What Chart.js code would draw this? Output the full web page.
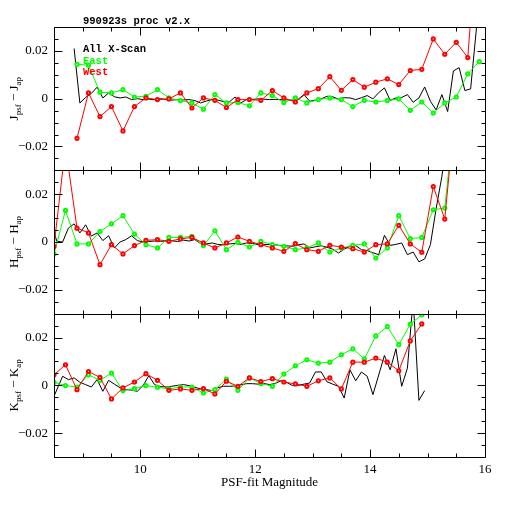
<!DOCTYPE html>
<html>
<head>
<meta charset="utf-8">
<script src="https://cdn.jsdelivr.net/npm/chart.js@4.4.0/dist/chart.umd.min.js"></script>
<style>
  html, body { margin: 0; padding: 0; background: #fff; }
  #wrap { width: 512px; height: 512px; }
</style>
</head>
<body>
<div id="wrap"><canvas id="chart" width="512" height="512"></canvas></div>
<script>
// plot title and series names
const plotTitle = '990923s proc v2.x';
const seriesNames = ['All X-Scan', 'East', 'West'];
const seriesColors = ['#000000', '#00ff00', '#ff0000'];
const xTickLabels = [10, 12, 14, 16];
const yTickLabels = [-0.02, 0, 0.02];

// J band (top panel)
const magJ = [8.9, 9.1, 9.3, 9.5, 9.7, 9.9, 10.1, 10.3, 10.5, 10.7, 10.9, 11.1, 11.3, 11.5, 11.7, 11.9, 12.1, 12.3,
  12.5, 12.7, 12.9, 13.1, 13.3, 13.5, 13.7, 13.9, 14.1, 14.3, 14.5, 14.7, 14.9, 15.1, 15.3, 15.5, 15.7, 15.9];
const eastJ = [0.0144, 0.0140, 0.0027, 0.0024, 0.0038, 0.0007, 0.0010, 0.0038, 0.0003, -0.0008, -0.0018, -0.0044,
  0.0017, -0.0018, -0.0016, -0.0030, 0.0024, 0.0013, -0.0016, 0.0003, -0.0018, -0.0004, 0.0003, -0.0004,
  -0.0033, -0.0007, -0.0014, -0.0008, -0.0001, -0.0049, -0.0014, -0.0060, -0.0018, 0.0007, 0.0104, 0.0155];
const westJ = [-0.0166, 0.0024, -0.0075, -0.0033, -0.0135, -0.0033, 0.0003, -0.0004, -0.0001, 0.0024, -0.0039, 0.0003,
  -0.0007, -0.0037, -0.0004, -0.0004, -0.0007, 0.0034, 0.0003, -0.0014, 0.0024, 0.0042, 0.0092, 0.0035,
  0.0080, 0.0048, 0.0069, 0.0083, 0.0059, 0.0118, 0.0123, 0.0250, 0.0186, 0.0236, 0.0172, 0.0800];
const magAllJ = [8.85, 8.95, 9.05, 9.15, 9.25, 9.35, 9.45, 9.55, 9.65, 9.75, 9.85, 9.95,
  10.05, 10.15, 10.25, 10.35, 10.45, 10.55, 10.65, 10.75, 10.85, 10.95,
  11.05, 11.15, 11.25, 11.35, 11.45, 11.55, 11.65, 11.75, 11.85, 11.95,
  12.05, 12.15, 12.25, 12.35, 12.45, 12.55, 12.65, 12.75, 12.85, 12.95,
  13.05, 13.15, 13.25, 13.35, 13.45, 13.55, 13.65, 13.75, 13.85, 13.95,
  14.05, 14.15, 14.25, 14.35, 14.45, 14.55, 14.65, 14.75, 14.85, 14.95,
  15.05, 15.15, 15.25, 15.35, 15.45, 15.55, 15.65, 15.75, 15.85, 15.95];
const allJ = [0.0210, -0.0018, 0.0005, 0.0022, 0.0048, 0.0003, 0.0024, 0.0008, 0.0003, 0.0007, -0.0004, 0.0000,
  -0.0004, -0.0002, -0.0004, 0.0000, -0.0003, -0.0006, -0.0004, -0.0005, -0.0004, -0.0008,
  -0.0018, -0.0010, -0.0004, -0.0006, -0.0012, -0.0014, 0.0007, -0.0018, -0.0004, -0.0003,
  -0.0001, -0.0002, -0.0004, -0.0003, -0.0004, -0.0005, -0.0007, -0.0002, 0.0017, -0.0011,
  -0.0006, -0.0001, 0.0010, 0.0008, -0.0002, 0.0004, 0.0003, -0.0004, 0.0004, 0.0013,
  -0.0001, 0.0025, 0.0045, -0.0007, 0.0003, 0.0005, 0.0017, -0.0015, 0.0003, 0.0049,
  -0.0011, -0.0047, 0.0017, -0.0054, 0.0116, 0.0130, 0.0034, 0.0041, 0.0292, 0.0500];

// H band (middle panel)
const magH = [8.5, 8.7, 8.9, 9.1, 9.3, 9.5, 9.7, 9.9, 10.1, 10.3, 10.5, 10.7, 10.9, 11.1, 11.3, 11.5, 11.7, 11.9,
  12.1, 12.3, 12.5, 12.7, 12.9, 13.1, 13.3, 13.5, 13.7, 13.9, 14.1, 14.3, 14.5, 14.7, 14.9, 15.1, 15.3, 15.5];
const eastH = [-0.0050, 0.0132, -0.0008, -0.0008, 0.0044, 0.0076, 0.0110, 0.0033, -0.0011, -0.0025, 0.0019, 0.0019,
  0.0024, -0.0015, 0.0047, -0.0032, -0.0001, -0.0021, 0.0003, -0.0011, -0.0018, -0.0032, -0.0025, -0.0004,
  -0.0042, -0.0025, -0.0014, -0.0008, -0.0067, -0.0025, 0.0110, 0.0014, 0.0019, 0.0135, 0.0142, 0.0600];
const westH = [-0.0018, 0.0400, 0.0058, 0.0038, -0.0095, -0.0011, -0.0050, -0.0015, 0.0007, 0.0010, 0.0003, 0.0013,
  0.0019, -0.0004, -0.0025, -0.0004, 0.0021, 0.0003, -0.0011, -0.0025, -0.0039, -0.0007, -0.0032, -0.0039,
  -0.0014, -0.0021, -0.0028, -0.0042, -0.0011, -0.0008, 0.0070, -0.0008, -0.0043, 0.0232, 0.0096, 0.0600];
const magAllH = [8.45, 8.55, 8.65, 8.75, 8.85, 8.95, 9.05, 9.15, 9.25, 9.35, 9.45, 9.55, 9.65, 9.75, 9.85, 9.95,
  10.05, 10.15, 10.25, 10.35, 10.45, 10.55, 10.65, 10.75, 10.85, 10.95,
  11.05, 11.15, 11.25, 11.35, 11.45, 11.55, 11.65, 11.75, 11.85, 11.95,
  12.05, 12.15, 12.25, 12.35, 12.45, 12.55, 12.65, 12.75, 12.85, 12.95,
  13.05, 13.15, 13.25, 13.35, 13.45, 13.55, 13.65, 13.75, 13.85, 13.95,
  14.05, 14.15, 14.25, 14.35, 14.45, 14.55, 14.65, 14.75, 14.85, 14.95,
  15.05, 15.15, 15.25, 15.35];
const allH = [0.0080, 0.0003, 0.0000, 0.0058, 0.0076, 0.0038, 0.0072, 0.0025, 0.0038, 0.0006, 0.0026, -0.0025,
  0.0000, 0.0010, 0.0026, 0.0006,
  0.0000, 0.0002, 0.0004, 0.0003, 0.0004, 0.0005, 0.0002, 0.0008, 0.0004, 0.0010,
  -0.0006, -0.0008, -0.0004, -0.0010, -0.0012, -0.0008, -0.0006, -0.0010, -0.0004, -0.0006,
  -0.0011, -0.0010, -0.0011, -0.0012, -0.0015, -0.0016, -0.0018, -0.0012, -0.0008, -0.0025,
  -0.0020, -0.0016, -0.0022, -0.0030, -0.0046, -0.0030, -0.0018, -0.0015, -0.0032, -0.0036,
  -0.0045, -0.0053, 0.0028, -0.0014, -0.0010, -0.0004, -0.0053, -0.0042, -0.0083, -0.0071,
  -0.0011, 0.0140, 0.0275, 0.0450];

// K band (bottom panel)
const magK = [8.5, 8.7, 8.9, 9.1, 9.3, 9.5, 9.7, 9.9, 10.1, 10.3, 10.5, 10.7, 10.9, 11.1, 11.3, 11.5, 11.7, 11.9,
  12.1, 12.3, 12.5, 12.7, 12.9, 13.1, 13.3, 13.5, 13.7, 13.9, 14.1, 14.3, 14.5, 14.7, 14.9, 15.1];
const eastK = [0.0013, -0.0001, -0.0007, 0.0044, 0.0021, 0.0051, -0.0022, -0.0014, -0.0001, -0.0008, -0.0015, -0.0007,
  -0.0007, -0.0032, -0.0018, 0.0026, -0.0021, 0.0031, 0.0008, -0.0004, 0.0047, 0.0082, 0.0107, 0.0093,
  0.0097, 0.0128, 0.0153, 0.0111, 0.0207, 0.0246, 0.0170, 0.0256, 0.0295, 0.0340];
const westK = [0.0044, 0.0086, -0.0018, 0.0058, 0.0033, -0.0057, -0.0011, 0.0014, 0.0049, 0.0021, -0.0021, -0.0015,
  -0.0021, -0.0014, -0.0036, 0.0017, -0.0004, 0.0031, 0.0016, 0.0028, 0.0014, 0.0006, -0.0004, 0.0019,
  0.0031, -0.0015, 0.0097, 0.0097, 0.0114, 0.0097, 0.0061, 0.0186, 0.0257];
const magAllK = [8.5, 8.65, 8.75, 8.85, 8.95, 9.05, 9.15, 9.25, 9.35, 9.45, 9.55, 9.65, 9.75, 9.85, 9.95,
  10.05, 10.15, 10.25, 10.35, 10.45, 10.55, 10.65, 10.75, 10.85, 10.95,
  11.05, 11.15, 11.25, 11.35, 11.45, 11.55, 11.65, 11.75, 11.85, 11.95,
  12.05, 12.15, 12.25, 12.35, 12.45, 12.55, 12.65, 12.75, 12.85, 12.95,
  13.05, 13.15, 13.25, 13.35, 13.45, 13.55, 13.65, 13.75, 13.85, 13.95,
  14.05, 14.25, 14.35, 14.45, 14.55, 14.65, 14.75, 14.85, 14.95];
const allK = [-0.0046, 0.0038, 0.0024, 0.0031, 0.0013, 0.0003, -0.0007, 0.0024, -0.0025, 0.0021, 0.0005, -0.0010,
  -0.0018, -0.0020, -0.0025,
  -0.0001, 0.0040, 0.0003, -0.0005, -0.0007, -0.0004, 0.0000, 0.0003, -0.0001, -0.0008,
  -0.0015, -0.0018, -0.0022, -0.0010, -0.0004, -0.0004, -0.0003, 0.0002, 0.0007, 0.0007,
  0.0005, 0.0008, 0.0003, 0.0008, 0.0019, 0.0012, -0.0001, 0.0000, 0.0005, 0.0010,
  0.0056, 0.0056, 0.0015, 0.0005, -0.0004, -0.0053, 0.0065, 0.0019, 0.0056, 0.0038,
  -0.0039, 0.0125, 0.0065, 0.0153, -0.0004, 0.0072, 0.0360, -0.0063, -0.0022];

const panels = [
  { id: 'yJ', band: 'J', weight: 3, all: [magAllJ, allJ], east: [magJ, eastJ], west: [magJ, westJ] },
  { id: 'yH', band: 'H', weight: 2, all: [magAllH, allH], east: [magH, eastH], west: [magH, westH] },
  { id: 'yK', band: 'K', weight: 1, all: [magAllK, allK], east: [magK, eastK], west: [magK, westK] }
];

function pts(xs, ys) {
  return ys.map((y, i) => ({ x: xs[i], y: y }));
}

const datasets = [];
panels.forEach(p => {
  datasets.push({
    label: seriesNames[0], yAxisID: p.id, data: pts(p.all[0], p.all[1]),
    borderColor: seriesColors[0], borderWidth: 1, pointRadius: 0, order: 3
  });
  [p.east, p.west].forEach((s, k) => {
    datasets.push({
      label: seriesNames[k + 1], yAxisID: p.id, data: pts(s[0], s[1]),
      borderColor: seriesColors[k + 1], borderWidth: 1,
      pointRadius: 1.6, pointBorderWidth: 2, pointBackgroundColor: '#ffffff',
      pointBorderColor: seriesColors[k + 1], order: 2 - k
    });
  });
});

const tickFont = { family: 'Liberation Serif', size: 13 };

function fmtY(v) {
  if (v === 0) return '0';
  return (v < 0 ? '\u2212' : '') + Math.abs(v).toFixed(2);
}

const scales = {
  x: {
    type: 'linear', position: 'bottom', min: 8.5, max: 16,
    grid: { display: false, drawTicks: false }, border: { display: false },
    ticks: { font: tickFont, color: '#000', padding: 5, maxRotation: 0, autoSkip: false },
    afterBuildTicks: s => { s.ticks = xTickLabels.map(v => ({ value: v })); },
    afterFit: s => { s.height = 55; }
  }
};
panels.forEach(p => {
  scales[p.id] = {
    type: 'linear', position: 'left', stack: 'panels', stackWeight: 1, weight: p.weight,
    min: -0.03, max: 0.03,
    grid: { display: false, drawTicks: false }, border: { display: false },
    ticks: { font: tickFont, color: '#000', padding: 6, callback: v => fmtY(v) },
    afterBuildTicks: s => { s.ticks = yTickLabels.map(v => ({ value: v })); },
    afterFit: s => { s.width = 54; }
  };
});

// clip each dataset to its own panel
const panelClip = {
  id: 'panelClip',
  beforeDatasetDraw(chart, args) {
    const ys = args.meta.yScale;
    const a = chart.chartArea;
    chart.ctx.save();
    chart.ctx.beginPath();
    chart.ctx.rect(a.left, ys.top, a.right - a.left, ys.bottom - ys.top);
    chart.ctx.clip();
  },
  afterDatasetDraw(chart) {
    chart.ctx.restore();
  }
};

// frames, inward ticks, titles, legend
const framePlugin = {
  id: 'framePlugin',
  afterDraw(chart) {
    const ctx = chart.ctx;
    const a = chart.chartArea;
    const xs = chart.scales.x;
    ctx.save();
    ctx.strokeStyle = '#000';
    ctx.lineWidth = 1;
    panels.forEach(p => {
      const s = chart.scales[p.id];
      const top = Math.round(s.top) + 0.5, bot = Math.round(s.bottom) + 0.5;
      const l = Math.round(a.left) + 0.5, r = Math.round(a.right) + 0.5;
      ctx.beginPath();
      ctx.rect(l, top, r - l, bot - top);
      // x ticks every 0.5, long every 2
      for (let k = 0; k <= 15; k++) {
        const v = 8.5 + k * 0.5;
        const len = (v % 2 === 0) ? 8 : 4;
        const px = Math.round(xs.getPixelForValue(v)) + 0.5;
        ctx.moveTo(px, bot); ctx.lineTo(px, bot - len);
        ctx.moveTo(px, top); ctx.lineTo(px, top + len);
      }
      // y ticks every 0.005, long every 0.02
      for (let k = -5; k <= 5; k++) {
        const len = (k % 4 === 0) ? 8 : 4;
        const py = Math.round(s.getPixelForValue(k * 0.005)) + 0.5;
        ctx.moveTo(l, py); ctx.lineTo(l + len, py);
        ctx.moveTo(r, py); ctx.lineTo(r - len, py);
      }
      ctx.stroke();

      // y axis title with subscripts
      const parts = [[p.band, 0], ['psf', 1], [' \u2212 ', 0], [p.band, 0], ['ap', 1]];
      const mainF = '13px "Liberation Serif"', subF = '9px "Liberation Serif"';
      let total = 0;
      parts.forEach(t => { ctx.font = t[1] ? subF : mainF; total += ctx.measureText(t[0]).width; });
      ctx.save();
      ctx.translate(15, (s.top + s.bottom) / 2);
      ctx.rotate(-Math.PI / 2);
      ctx.fillStyle = '#000';
      ctx.textBaseline = 'alphabetic';
      let cx = -total / 2;
      parts.forEach(t => {
        ctx.font = t[1] ? subF : mainF;
        ctx.fillText(t[0], cx, t[1] ? 6 : 3);
        cx += ctx.measureText(t[0]).width;
      });
      ctx.restore();
    });

    // title and legend
    ctx.font = 'bold 10.5px "Liberation Mono"';
    ctx.textBaseline = 'alphabetic';
    ctx.fillStyle = '#000';
    ctx.fillText(plotTitle, 83, 24);
    const legendY = [52, 63.5, 74.5];
    seriesNames.forEach((n, i) => {
      ctx.fillStyle = seriesColors[i];
      ctx.fillText(n, 83, legendY[i]);
    });

    // x axis title
    ctx.font = '13px "Liberation Serif"';
    ctx.fillStyle = '#000';
    ctx.textAlign = 'center';
    ctx.fillText('PSF-fit Magnitude', (a.left + a.right) / 2, 486);
    ctx.restore();
  }
};

new Chart(document.getElementById('chart'), {
  type: 'line',
  data: { datasets: datasets },
  options: {
    responsive: false,
    animation: false,
    layout: { padding: { top: 27, right: 27, left: 0, bottom: 0 } },
    plugins: { legend: { display: false }, tooltip: { enabled: false } },
    scales: scales
  },
  plugins: [panelClip, framePlugin]
});
</script>
</body>
</html>
